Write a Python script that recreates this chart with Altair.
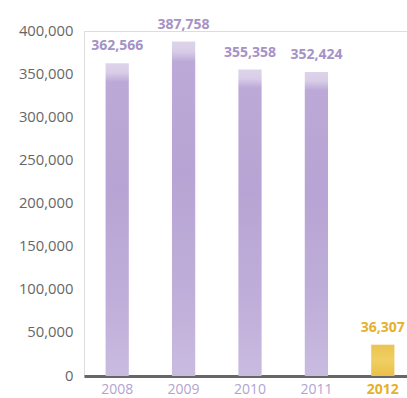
import altair as alt
import pandas as pd

years = ["2008", "2009", "2010", "2011", "2012"]
values = [362566, 387758, 355358, 352424, 36307]
highlight = [False, False, False, False, True]
y_ticks = [0, 50000, 100000, 150000, 200000, 250000, 300000, 350000, 400000]

df = pd.DataFrame({"year": years, "value": values, "hl": highlight})

FONT = "Open Sans"
PURPLE_TXT = "#a592c6"
GOLD = "#e6b12a"

purple_grad = alt.Gradient(
    gradient="linear",
    stops=[
        alt.GradientStop(color="#ddd4ea", offset=0),
        alt.GradientStop(color="#d8cde7", offset=0.03),
        alt.GradientStop(color="#bca9d7", offset=0.06),
        alt.GradientStop(color="#b8a4d4", offset=0.4),
        alt.GradientStop(color="#bfaed9", offset=0.75),
        alt.GradientStop(color="#c9bbe0", offset=1),
    ],
    x1=0, x2=0, y1=0, y2=1,
)
gold_grad = alt.Gradient(
    gradient="linear",
    stops=[
        alt.GradientStop(color="#ebc452", offset=0),
        alt.GradientStop(color="#f0cf62", offset=0.5),
        alt.GradientStop(color="#e9c04a", offset=1),
    ],
    x1=0, x2=0, y1=0, y2=1,
)

x_scale = alt.Scale(range=[0, 332], paddingInner=0.65, paddingOuter=0.325)
y_scale = alt.Scale(domain=[0, 400000], nice=False)

x_enc = alt.X(
    "year:N",
    sort=years,
    scale=x_scale,
    axis=alt.Axis(
        title=None, ticks=False, labelAngle=0, labelFont=FONT, labelFontSize=14,
        labelColor={"expr": f"datum.value == '2012' ? '{GOLD}' : '#b3a3cf'"},
        labelFontWeight={"expr": "datum.value == '2012' ? 'bold' : 'normal'"},
        labelPadding=6, domainColor="#666666", domainWidth=3, grid=False,
    ),
)
y_enc = alt.Y(
    "value:Q",
    scale=y_scale,
    axis=alt.Axis(
        title=None, ticks=False, domain=False, grid=False,
        values=y_ticks,
        format=",.0f", labelFont=FONT, labelFontSize=14.8, labelColor="#666666", labelPadding=11,
    ),
)

base = alt.Chart(df)

bars_p = base.transform_filter("!datum.hl").mark_bar(fill=purple_grad).encode(x=x_enc, y=y_enc)
bars_g = base.transform_filter("datum.hl").mark_bar(fill=gold_grad).encode(x=x_enc, y=y_enc)

labels = base.mark_text(dy=-10, baseline="bottom", font=FONT, fontSize=14, fontWeight="bold").encode(
    x=x_enc,
    y=y_enc,
    text=alt.Text("value:Q", format=","),
    color=alt.condition("datum.hl", alt.value(GOLD), alt.value(PURPLE_TXT)),
)

chart = (
    alt.layer(bars_p, bars_g, labels)
    .properties(
        width=323, height=345,
        autosize=alt.AutoSizeParams(type="none"),
        padding={"left": 84, "top": 31, "right": 0, "bottom": 22},
    )
    .configure_view(strokeWidth=0, stroke="transparent")
    .configure(background="white")
)

chart.save("out.html", embed_options={"renderer": "svg", "actions": False})
